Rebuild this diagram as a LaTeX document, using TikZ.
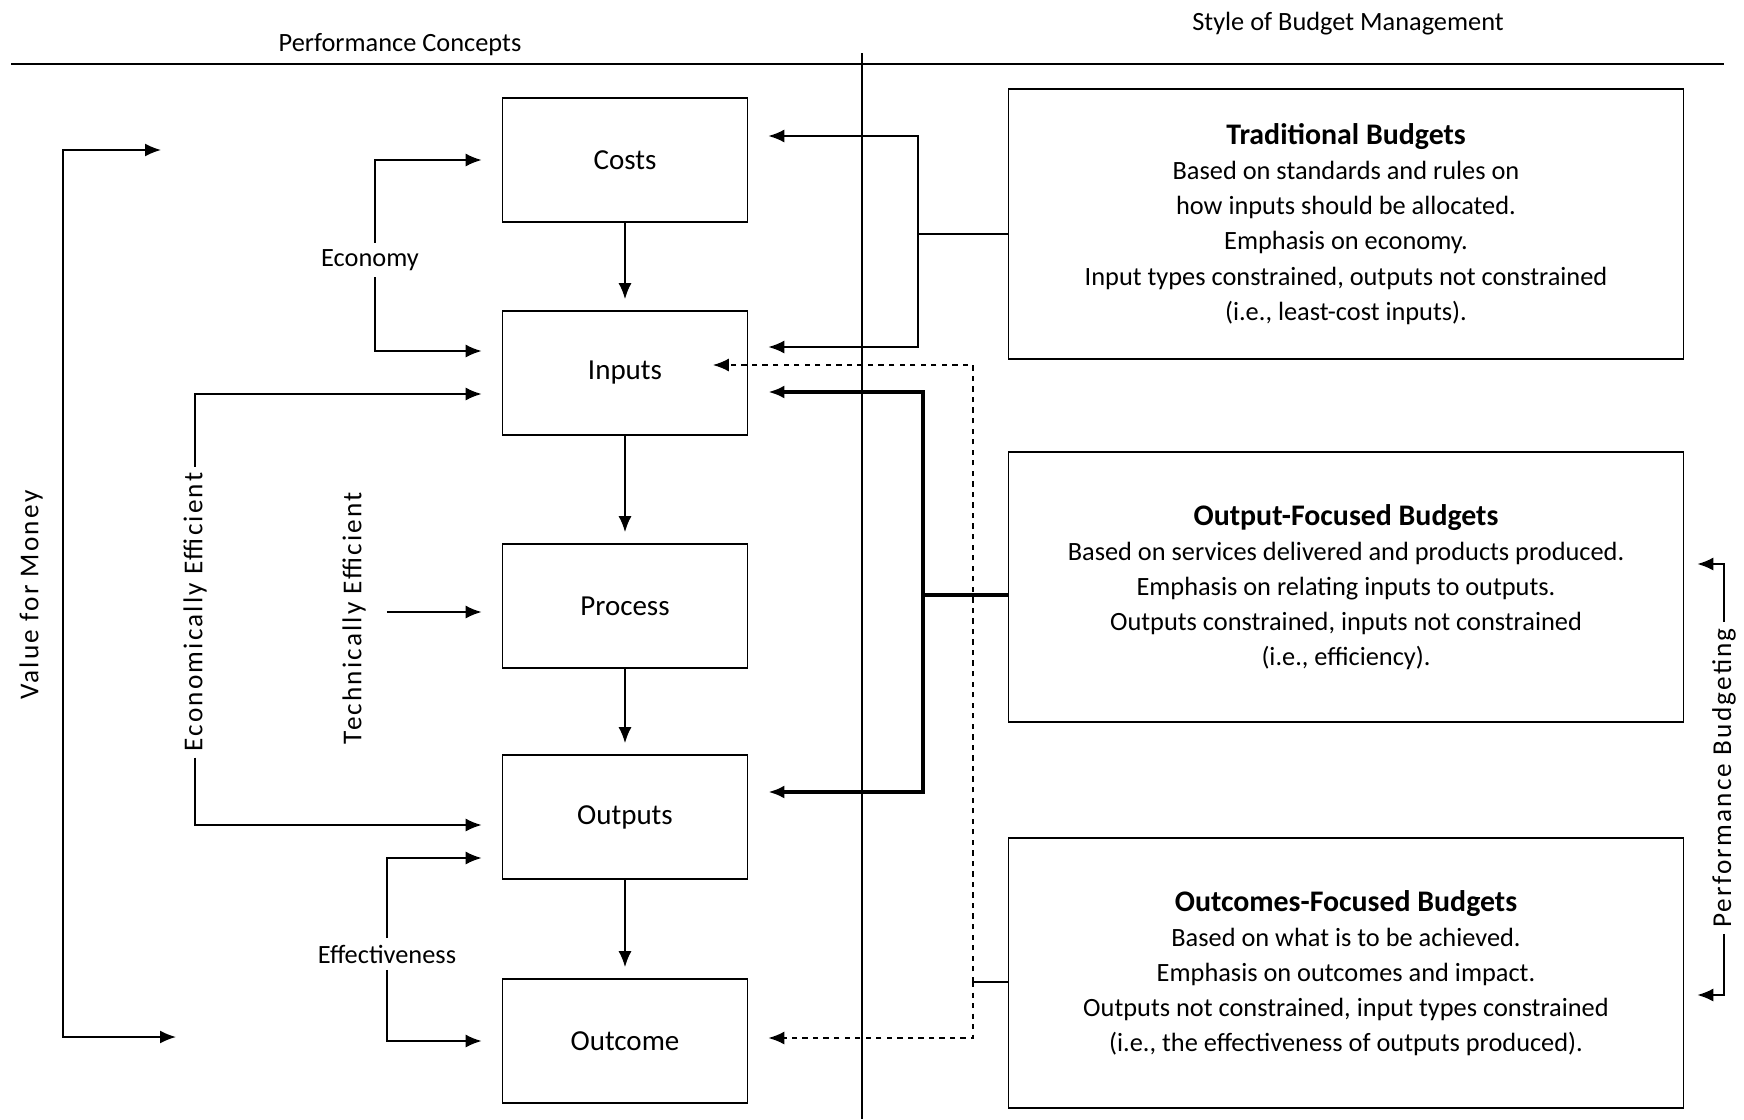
\documentclass[tikz,border=0pt]{standalone}
\usepackage{fontspec}
\setmainfont{Carlito}
\usetikzlibrary{arrows.meta}

\begin{document}
\begin{tikzpicture}[x=0.02cm, y=0.02cm, line width=1pt,
  font=\fontsize{15}{20}\selectfont,
  stage/.style={draw, minimum width=4.9cm, minimum height=2.48cm, font=\fontsize{16.5}{20}\selectfont},
  budget/.style={draw, minimum width=13.5cm, minimum height=5.4cm, align=center},
  arr/.style={-{Latex[length=0.32cm, width=0.26cm]}, shorten >=0.4cm},
  sideways/.style={rotate=90, inner sep=3pt, font=\fontsize{15.5}{20}\selectfont\addfontfeature{LetterSpace=8}}]

\useasboundingbox (0,0) rectangle (1744,-1119);

\node (perfcon) at (400,-45) {Performance Concepts};
\node (budstyle) at (1348,-24) {Style of Budget Management};
\draw (11,-64) -- (1724,-64);
\draw (862,-53) -- (862,-1119);

\node [stage] (costs) at (625,-160) {Costs};
\node [stage] (inputs) at (625,-373) {Inputs};
\node [stage] (process) at (625,-606) {Process};
\node [stage] (outputs) at (625,-817) {Outputs};
\node [stage] (outcome) at (625,-1041) {Outcome};

\draw [arr, shorten >=0.22cm] (costs) -- (inputs);
\draw [arr, shorten >=0.22cm] (inputs) -- (process);
\draw [arr, shorten >=0.22cm] (process) -- (outputs);
\draw [arr, shorten >=0.22cm] (outputs) -- (outcome);

\node [budget] (trad) at (1346,-224) {{\bfseries\fontsize{17}{20}\selectfont Traditional Budgets}\\
  Based on standards and rules on\\ how inputs should be allocated.\\ Emphasis on economy.\\
  Input types constrained, outputs not constrained\\ (i.e., least-cost inputs).};
\node [budget] (outfoc) at (1346,-587) {{\bfseries\fontsize{17}{20}\selectfont Output-Focused Budgets}\\
  Based on services delivered and products produced.\\ Emphasis on relating inputs to outputs.\\
  Outputs constrained, inputs not constrained\\ (i.e., efficiency).};
\node [budget] (outcfoc) at (1346,-973) {{\bfseries\fontsize{17}{20}\selectfont Outcomes-Focused Budgets}\\
  Based on what is to be achieved.\\ Emphasis on outcomes and impact.\\
  Outputs not constrained, input types constrained\\ (i.e., the effectiveness of outputs produced).};

\node (economy) at (370,-260) {Economy};
\draw [arr] ([xshift=0.1cm]economy.north) |- (costs.west);
\draw [arr] ([xshift=0.1cm]economy.south) |- ([yshift=0.44cm]inputs.west);

\node [sideways] (econeff) at (195,-612) {Economically Efficient};
\draw [arr] (econeff.east) |- ([yshift=-0.42cm]inputs.west);
\draw [arr] (econeff.west) |- ([yshift=-0.16cm]outputs.west);

\node [sideways] (techeff) at (354,-618) {Technically Efficient};
\draw [arr] ([xshift=0.3cm, yshift=0.12cm]techeff.south) -- ([yshift=0.12cm]techeff.south -| process.west);

\node (effect) at (387,-954) {Effectiveness};
\draw [arr] (effect.north) |- ([yshift=-0.82cm]outputs.west);
\draw [arr] (effect.south) |- (outcome.west);

\node [sideways] (vfm) at (31,-595) {Value for Money};
\coordinate (vfmtop) at (161,-150);
\coordinate (vfmbot) at (176,-1037);
\draw [{Latex[length=0.32cm, width=0.26cm]}-{Latex[length=0.32cm, width=0.26cm]}]
  (vfmtop) -| ([xshift=0.28cm]vfm.south) |- (vfmbot);

\coordinate (tradjoin) at (918,-234);
\draw (tradjoin) -- (tradjoin -| trad.west);
\draw [arr] (tradjoin) |- ([yshift=0.48cm]costs.east);
\draw [arr] (tradjoin) |- ([yshift=0.52cm]inputs.east);

\coordinate (outjoin) at (923,-595);
\draw [line width=2.2pt] (outjoin) -- (outjoin -| outfoc.west);
\draw [arr, line width=2.2pt] (outjoin) |- ([yshift=-0.38cm]inputs.east);
\draw [arr, line width=2.2pt] (outjoin) |- ([yshift=0.5cm]outputs.east);

\coordinate (outcjoin) at (973,-982);
\draw (outcjoin) -- (outcjoin -| outcfoc.west);
\draw [arr, dashed, shorten >=0pt] (outcjoin) |- ([xshift=-0.71cm, yshift=0.16cm]inputs.east);
\draw [arr, dashed] (outcjoin) |- ([yshift=0.06cm]outcome.east);

\node [sideways] (perfbud) at (1724,-778) {Performance Budgeting};
\draw [arr, shorten >=0.26cm] (perfbud.east) |- ([yshift=0.46cm]outfoc.east);
\draw [arr, shorten >=0.26cm] (perfbud.west) |- ([yshift=-0.44cm]outcfoc.east);

\end{tikzpicture}
\end{document}
